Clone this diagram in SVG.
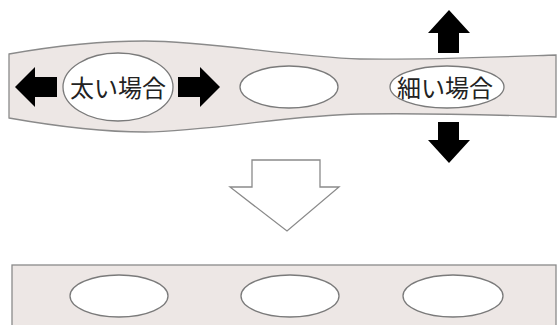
<svg xmlns="http://www.w3.org/2000/svg" width="560" height="325" viewBox="0 0 560 325">
<style>
.tube{fill:#ede7e5;stroke:#8a8a8a;stroke-width:1.3}
.ell{fill:#ffffff;stroke:#7a7a7a;stroke-width:1.3}
.arr{fill:#000000}
.lbl{font-family:"Noto Sans CJK JP","Noto Sans CJK SC",sans-serif;font-size:24px;fill:#222;text-anchor:middle}
</style>
<rect width="560" height="325" fill="#ffffff"/>
<g id="tube-top">
<path class="tube" d="M9,54 C60,45 100,41 145,41 C210,41 290,57 360,59 C430,60 500,57 556,55 L556,117 C500,115 430,113 360,114 C290,115 210,131 145,132 C100,132 60,127 9,118 Z"/>
</g>
<g id="thick">
<ellipse class="ell" cx="118" cy="87" rx="55" ry="34"/>
<text class="lbl" x="118" y="97" font-size="25">太い場合</text>
</g>
<g id="mid-top">
<ellipse class="ell" cx="289" cy="87" rx="49" ry="21"/>
</g>
<g id="thin">
<ellipse class="ell" cx="447" cy="87" rx="57" ry="21"/>
<text class="lbl" x="445" y="97">細い場合</text>
</g>
<g id="arrows">
<polygon class="arr" points="15,87 35,67 35,77 57,77 57,97 35,97 35,107"/>
<polygon class="arr" points="220,87 200,67 200,77 178,77 178,97 200,97 200,107"/>
<polygon class="arr" points="449,10 470,33 459,33 459,53 438,53 438,33 428,33"/>
<polygon class="arr" points="449,163 470,140 459,140 459,122 438,122 438,140 428,140"/>
<polygon points="252,160 320,160 320,187 339,187 287,231 230,187 252,187" fill="#ffffff" stroke="#8a8a8a" stroke-width="1.3"/>
</g>
<g id="tube-bottom">
<rect class="tube" x="12" y="265" width="544" height="70"/>
<ellipse class="ell" cx="119" cy="296" rx="49" ry="21"/>
<ellipse class="ell" cx="290" cy="296" rx="49" ry="21"/>
<ellipse class="ell" cx="453" cy="296" rx="50" ry="21"/>
</g>
</svg>
